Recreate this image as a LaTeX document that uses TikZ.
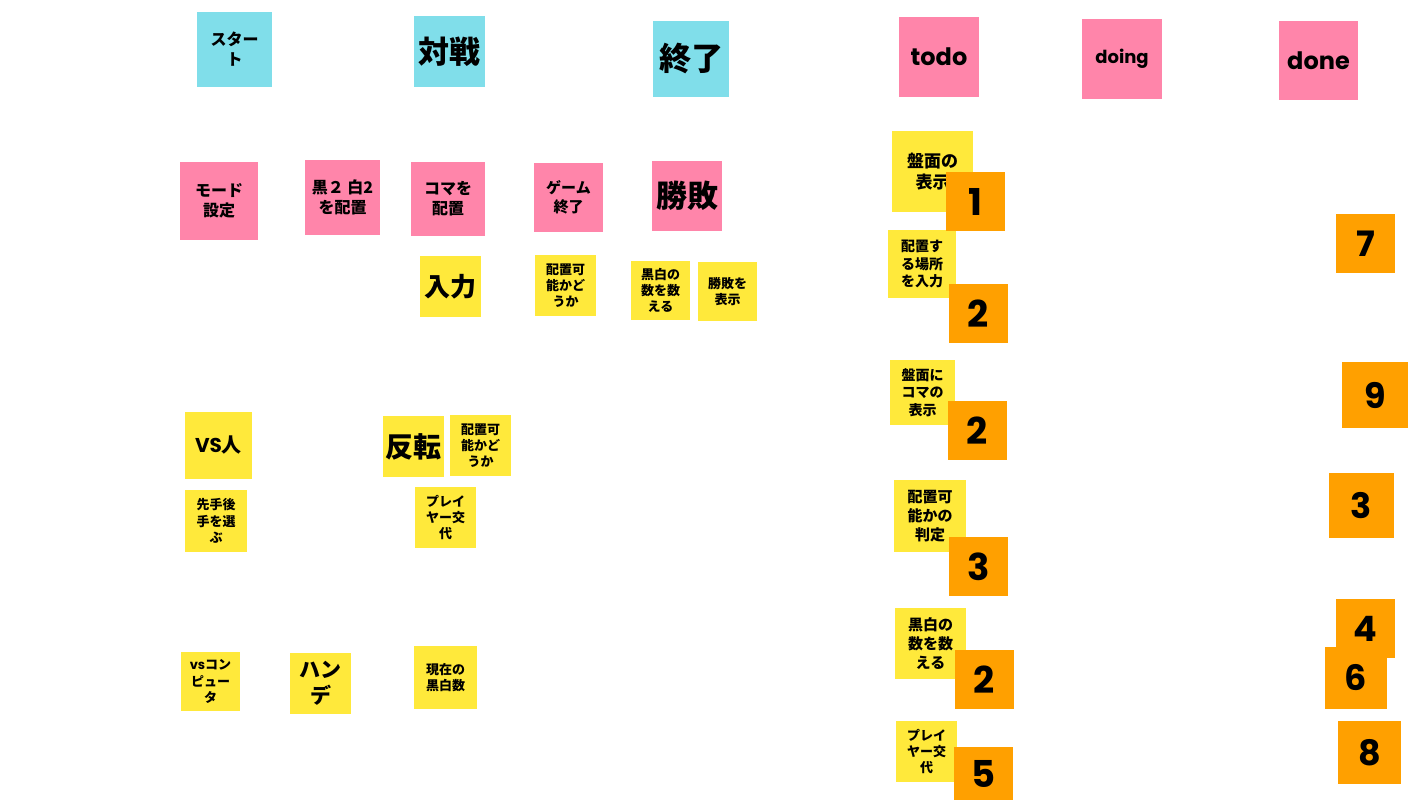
\documentclass[tikz,border=0pt]{standalone}
\usepackage{fontspec}
\newfontfamily\jp{Noto Sans CJK JP}
\newfontfamily\pop{Poppins}
\definecolor{stcyan}{RGB}{128,222,234}
\definecolor{stpink}{RGB}{255,133,170}
\definecolor{styellow}{RGB}{255,233,59}
\definecolor{storange}{RGB}{255,160,0}
\tikzset{
  sticky/.style={inner sep=0pt, outer sep=0pt, align=center, text=black, draw=none},
}
% name, colour, x1, y1, x2, y2, size, text
\newcommand\sticky[8]{%
  \node[sticky, fill=#2, minimum width={#5-#3}, minimum height={#6-#4},
        font=\jp\bfseries\fontsize{#7pt}{\dimexpr #7pt*5/4\relax}\selectfont]
        (#1) at ({(#3+#5)/2},{(#4+#6)/2}) {#8};}
\begin{document}
\begin{tikzpicture}[x=1pt,y=-1pt]
\useasboundingbox[fill=white] (0,0) rectangle (1422,800);
% cyan headers
\sticky{start}{stcyan}{197}{12}{272}{87}{16}{スター\\ト}
\sticky{battle}{stcyan}{414}{16}{485}{87}{31}{対戦}
\sticky{finish}{stcyan}{653}{21}{729}{97}{32}{終了}
% pink headers (kanban)
\node[sticky, fill=stpink, minimum width=80, minimum height=80, font=\pop\bfseries\fontsize{24pt}{24pt}\selectfont] (todo) at (939,57) {todo};
\node[sticky, fill=stpink, minimum width=80, minimum height=80, font=\pop\bfseries\fontsize{18pt}{18pt}\selectfont] (doing) at (1122,59) {doing};
\node[sticky, fill=stpink, minimum width=79, minimum height=79, font=\pop\bfseries\fontsize{24pt}{24pt}\selectfont] (done) at (1318.5,60.5) {done};
% pink phases
\sticky{mode}{stpink}{180}{162}{258}{240}{16}{モード\\設定}
\sticky{init}{stpink}{305}{160}{380}{235}{16}{黒２ 白2\\を配置}
\sticky{place}{stpink}{411}{162}{485}{236}{16}{コマを\\配置}
\sticky{gameend}{stpink}{534}{163}{603}{232}{15}{ゲーム\\終了}
\sticky{result}{stpink}{652}{161}{722}{231}{31}{勝敗}
% yellow notes
\sticky{input}{styellow}{420}{256}{481}{317}{26}{入力}
\sticky{canplaceA}{styellow}{535}{255}{596}{316}{13}{配置可\\能かど\\うか}
\sticky{countA}{styellow}{631}{261}{690}{320}{13}{黒白の\\数を数\\える}
\sticky{showres}{styellow}{698}{262}{757}{321}{13}{勝敗を\\表示}
\sticky{vshuman}{styellow}{185}{412}{252}{479}{20}{{\pop VS}人}
\sticky{order}{styellow}{185}{490}{247}{552}{13}{先手後\\手を選\\ぶ}
\sticky{flip}{styellow}{383}{416}{444}{477}{28}{反転}
\sticky{canplaceB}{styellow}{450}{415}{511}{476}{13}{配置可\\能かど\\うか}
\sticky{swapA}{styellow}{415}{487}{476}{548}{13}{プレイ\\ヤー交\\代}
\sticky{vscpu}{styellow}{181}{652}{240}{711}{13}{{\pop vs}コン\\ピュー\\タ}
\sticky{handicap}{styellow}{290}{653}{351}{714}{21}{ハン\\デ}
\sticky{current}{styellow}{414}{646}{477}{709}{13}{現在の\\黒白数}
% todo column
\sticky{tA}{styellow}{892}{131}{973}{212}{17}{盤面の\\表示}
\sticky{tB}{styellow}{888}{230}{956}{298}{14}{配置す\\る場所\\を入力}
\sticky{tC}{styellow}{890}{360}{955}{425}{14}{盤面に\\コマの\\表示}
\sticky{tD}{styellow}{894}{480}{966}{552}{15}{配置可\\能かの\\判定}
\sticky{tE}{styellow}{895}{608}{966}{679}{15}{黒白の\\数を数\\える}
\sticky{tF}{styellow}{896}{721}{957}{782}{13}{プレイ\\ヤー交\\代}
% orange estimates (todo)
\tikzset{numtxt/.style={sticky, fill=storange, font=\pop\bfseries\fontsize{37pt}{37pt}\selectfont}}
\node[numtxt, minimum width=59, minimum height=59] (oA) at (975.5,201.5) {1};
\node[numtxt, minimum width=59, minimum height=59] (oB) at (978.5,313.5) {2};
\node[numtxt, minimum width=59, minimum height=59] (oC) at (977.5,430.5) {2};
\node[numtxt, minimum width=59, minimum height=59] (oD) at (978.5,566.5) {3};
\node[numtxt, minimum width=59, minimum height=59] (oE) at (984.5,679.5) {2};
\node[numtxt, minimum width=59, minimum height=53] (oF) at (983.5,773.5) {5};
% orange (done)
\tikzset{numtxtb/.style={sticky, fill=storange, font=\pop\bfseries\fontsize{35pt}{35pt}\selectfont}}
\node[numtxtb, minimum width=59, minimum height=59] (dA) at (1365.5,243.5) {7};
\node[numtxtb, minimum width=66, minimum height=66] (dB) at (1375,395) {9};
\node[numtxtb, minimum width=65, minimum height=65] (dC) at (1361.5,505.5) {3};
\node[numtxtb, minimum width=59, minimum height=59] (dD) at (1365.5,628.5) {4};
\node[numtxtb, minimum width=62, minimum height=62] (dE) at (1356,678) {6};
\node[numtxtb, minimum width=63, minimum height=63] (dF) at (1369.5,752.5) {8};
\end{tikzpicture}
\end{document}
